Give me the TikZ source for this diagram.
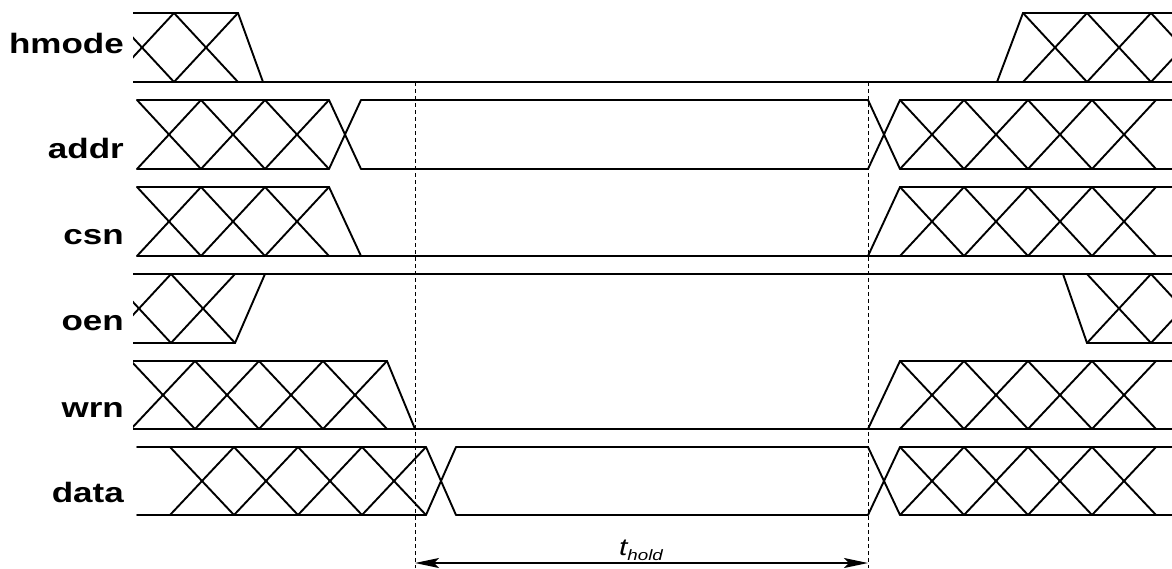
\documentclass[tikz,border=0pt]{standalone}
\usepackage{fontspec}
\setmainfont{Liberation Sans}
\usetikzlibrary{arrows.meta}

\tikzset{
    wave/.style={line width=1.9pt, line cap=round, line join=miter},
    guide/.style={line width=0.9pt, dash pattern=on 4pt off 3pt},
    siglabel/.style={anchor=base east, inner sep=0pt, xscale=1.25,
        font=\fontsize{28}{28}\selectfont\bfseries},
    holdlabel/.style={anchor=base, inner sep=0pt, xscale=1.25,
        font=\fontsize{24}{24}\selectfont\itshape},
    holdtip/.tip={Stealth[length=24pt,width=10pt,inset=5pt]},
}

% one crossing cell of a bus: from x #1 to x #2, top #3, bottom #4
\newcommand{\xcell}[4]{\draw[wave] (#1,#3) -- (#2,#4) (#1,#4) -- (#2,#3);}

\begin{document}
\begin{tikzpicture}[x=1pt, y=-1pt]
    \useasboundingbox (0,0) rectangle (1172,568);

    % Signal names
    \node[siglabel] (hmode) at (124,53) {hmode};
    \node[siglabel] (addr) at (124,158) {addr};
    \node[siglabel] (csn) at (124,244) {csn};
    \node[siglabel] (oen) at (124,330) {oen};
    \node[siglabel] (wrn) at (124,417) {wrn};
    \node[siglabel] (data) at (124,502) {data};

    \begin{scope}
    \clip (133,0) rectangle (1172,568);

    % hmode
    \draw[wave] (133,13) -- (238,13) -- (263,82);
    \draw[wave] (133,82) -- (1172,82);
    \foreach \a in {110,174} {\xcell{\a}{\a+64}{13}{82}}
    \draw[wave] (997,82) -- (1023,13) -- (1172,13);
    \foreach \a in {1023,1087,1151} {\xcell{\a}{\a+64}{13}{82}}

    % addr
    \draw[wave] (137,100) -- (329,100) (137,169) -- (329,169);
    \foreach \a in {137,201,265} {\xcell{\a}{\a+64}{100}{169}}
    \xcell{329}{361}{100}{169}
    \draw[wave] (361,100) -- (868,100) (361,169) -- (868,169);
    \xcell{868}{900}{100}{169}
    \draw[wave] (900,100) -- (1172,100) (900,169) -- (1172,169);
    \foreach \a in {900,964,1028,1092} {\xcell{\a}{\a+64}{100}{169}}

    % csn
    \draw[wave] (137,187) -- (329,187) -- (361,256);
    \draw[wave] (137,256) -- (1172,256);
    \foreach \a in {137,201,265} {\xcell{\a}{\a+64}{187}{256}}
    \draw[wave] (868,256) -- (900,187) -- (1172,187);
    \foreach \a in {900,964,1028,1092} {\xcell{\a}{\a+64}{187}{256}}

    % oen
    \draw[wave] (133,274) -- (1172,274);
    \draw[wave] (133,343) -- (235,343) -- (265,274);
    \foreach \a in {107,171} {\xcell{\a}{\a+64}{274}{343}}
    \draw[wave] (1063,274) -- (1087,343) -- (1172,343);
    \foreach \a in {1087,1151} {\xcell{\a}{\a+64}{274}{343}}

    % wrn
    \draw[wave] (133,361) -- (387,361) -- (415,429);
    \draw[wave] (133,429) -- (1172,429);
    \foreach \a in {131,195,259,323} {\xcell{\a}{\a+64}{361}{429}}
    \draw[wave] (868,429) -- (900,361) -- (1172,361);
    \foreach \a in {900,964,1028,1092} {\xcell{\a}{\a+64}{361}{429}}

    % data
    \draw[wave] (137,447) -- (426,447) (137,515) -- (426,515);
    \foreach \a in {170,234,298,362} {\xcell{\a}{\a+64}{447}{515}}
    \xcell{426}{456}{447}{515}
    \draw[wave] (456,447) -- (868,447) (456,515) -- (868,515);
    \xcell{868}{900}{447}{515}
    \draw[wave] (900,447) -- (1172,447) (900,515) -- (1172,515);
    \foreach \a in {900,964,1028,1092} {\xcell{\a}{\a+64}{447}{515}}
    \end{scope}

    % Hold time
    \coordinate (holdL) at (415,563);
    \coordinate (holdR) at (868,563);
    \draw[guide] (415,82) -- (415,568);
    \draw[guide] (868,82) -- (868,568);
    \draw[line width=1.5pt, holdtip-holdtip] (holdL) -- (holdR);
    \node[holdlabel] (thold) at (641,555) {t\raisebox{-5pt}{\fontsize{15}{15}\selectfont hold}};
\end{tikzpicture}
\end{document}
